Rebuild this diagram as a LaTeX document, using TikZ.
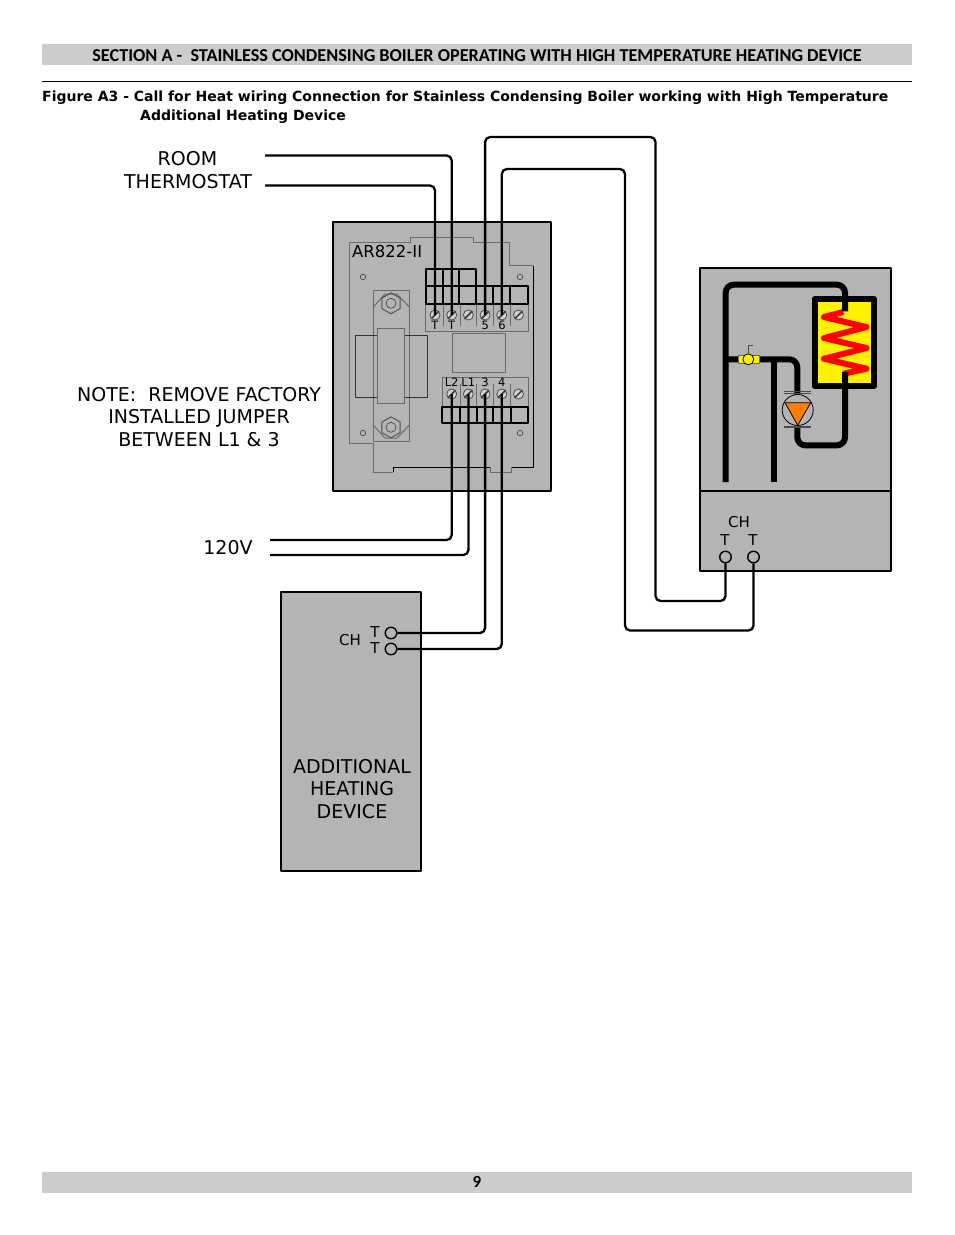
\documentclass[tikz,border=0pt]{standalone}
\usepackage{fontspec}
\setmainfont{DejaVu Sans}
\newfontfamily\headfont{Carlito}
\usetikzlibrary{shapes.geometric}
\definecolor{panelgray}{HTML}{B4B4B4}
\definecolor{bargray}{HTML}{CCCCCC}
\definecolor{trimgray}{HTML}{6A6A6A}
\definecolor{pumporange}{HTML}{FF8000}
\begin{document}
\begin{tikzpicture}[x=1pt,y=-1pt,line join=round,
      node distance=16.7pt,
      box/.style={draw=black,line width=1.4pt,fill=panelgray},
      trim/.style={draw=trimgray,line width=1pt},
      termline/.style={draw=black,line width=1.9pt},
      wire/.style={draw=black,line width=2.3pt,rounded corners=5pt},
      pipe/.style={draw=black,line width=6pt,rounded corners=8pt},
      screw/.style={circle,draw=black!70,fill=panelgray!60,line width=0.8pt,minimum size=10pt,inner sep=0pt},
      lug/.style={circle,draw=black,line width=1.4pt,fill=panelgray,minimum size=11.5pt,inner sep=0pt},
      hole/.style={circle,draw=black!70,line width=0.7pt,minimum size=5.5pt,inner sep=0pt},
      nut/.style={regular polygon,regular polygon sides=6,shape border rotate=30,draw=black!70,line width=0.9pt,minimum size=21pt,inner sep=0pt},
      lab/.style={font=\fontsize{19}{22.5}\selectfont,align=center,inner sep=0pt},
      devlab/.style={font=\fontsize{15}{18}\selectfont,inner sep=0pt},
      tiny/.style={font=\fontsize{11.5}{12}\selectfont,inner sep=0pt}]
    \useasboundingbox (0,0) rectangle (954,1235);
    \fill[bargray] (42,44) rectangle (912,65);
    \fill[bargray] (42,1172) rectangle (912,1193);
    \draw[line width=1pt] (42,81) -- (912,81);
    \node (section) at (477,56) {\headfont\bfseries\fontsize{18.2}{20}\selectfont SECTION A -\ \ STAINLESS CONDENSING BOILER OPERATING WITH HIGH TEMPERATURE HEATING DEVICE};
    \node[anchor=west,inner sep=0pt] (figA) at (42,98) {\bfseries\fontsize{14}{16}\selectfont Figure A3 - Call for Heat wiring Connection for Stainless Condensing Boiler working with High Temperature};
    \node[anchor=west,inner sep=0pt] (figB) at (140,117) {\bfseries\fontsize{14}{16}\selectfont Additional Heating Device};
    \node (pagenum) at (477,1182) {\headfont\bfseries\fontsize{17}{18}\selectfont 9};

    \node[lab] (room) at (187.5,158.5) {ROOM};
    \node[lab] (thermo) at (188,181.5) {THERMOSTAT};
    \node[lab] (note) at (199,417) {NOTE:\ \ REMOVE FACTORY\\INSTALLED JUMPER\\BETWEEN L1 \& 3};
    \node[lab] (volts) at (228,547.5) {120V};

    \draw[box] (333,222) rectangle (551,491);
    \draw[trim] (349.3,443.3) -- (349.3,242.7) -- (410,242.7) -- (410,237.3) -- (473.3,237.3) -- (473.3,242.7) -- (509.3,242.7) -- (509.3,265.7) -- (533.3,265.7);
    \draw[trim] (349.3,443.3) -- (373.3,443.3) -- (373.3,472.3) -- (393.3,472.3);
    \draw[line width=0.9pt] (533.3,265.7) -- (533.3,467.3) -- (511.7,467.3);
    \draw[line width=0.9pt] (393.3,472.3) -- (393.3,467.3) -- (490,467.3);
    \draw[trim] (490,467.3) -- (490,472.3) -- (511.7,472.3) -- (511.7,467.3);
    \node[devlab,anchor=west,font=\fontsize{16.5}{18}\selectfont] (model) at (352,251.5) {AR822-II};
    \node[hole] (h1) at (363,277) {};
    \node[hole] (h2) at (520,277) {};
    \node[hole] (h3) at (363,433) {};
    \node[hole] (h4) at (520,433) {};

    \draw[trim] (373.3,290.7) rectangle (409.3,441.7);
    \draw[line width=1.2pt,draw=black!80] (355.7,335.7) rectangle (427.3,397.3);
    \draw[trim,fill=panelgray] (377.3,328.3) rectangle (404.7,403.3);
    \draw[trim] (373.3,307) -- (385,294) -- (397,294) -- (409.3,307);
    \draw[trim] (373.3,425) -- (385,438) -- (397,438) -- (409.3,425);
    \node[nut] (n1) at (391,303.3) {};
    \node[nut] (n2) at (391,427.3) {};
    \node[hole,minimum size=10pt] (n1c) at (391,303.3) {};
    \node[hole,minimum size=10pt] (n2c) at (391,427.3) {};

    \draw[trim] (452.7,333.3) rectangle (505,372.3);
    \draw[trim] (425.7,303.3) rectangle (528.3,331);
    \draw[trim] (442.3,406.7) -- (442.3,377.3) -- (528,377.3) -- (528,406.7);
    \foreach \x in {443.3,460,476.7,493.3,510.3} \draw[trim] (\x,303.7) -- (\x,326);
    \foreach \x in {460,476.7,493.3,510.3} \draw[trim] (\x,384) -- (\x,406.7);
    \draw[termline] (425.7,269.3) rectangle (476,303.7);
    \draw[termline] (425.7,285.7) -- (528.3,285.7) -- (528.3,303.7) -- (476,303.7);
    \foreach \x in {442.7,459.3} \draw[termline] (\x,269.3) -- (\x,303.7);
    \foreach \x in {492.7,510} \draw[termline] (\x,285.7) -- (\x,303.7);
    \draw[termline] (442.3,406.7) rectangle (527.7,423.3);
    \foreach \x in {460,476.7,493.3,511} \draw[termline] (\x,406.7) -- (\x,423.3);

    \node[screw] (s1) at (435,315) {};
    \node[screw] (s2) [right of=s1] {};
    \node[screw] (s3) [right of=s2] {};
    \node[screw] (s4) [right of=s3] {};
    \node[screw] (s5) [right of=s4] {};
    \node[screw] (s6) [right of=s5] {};
    \node[screw] (b1) at (451.7,394) {};
    \node[screw] (b2) [right of=b1] {};
    \node[screw] (b3) [right of=b2] {};
    \node[screw] (b4) [right of=b3] {};
    \node[screw] (b5) [right of=b4] {};
    \foreach \s in {s1,s2,s3,s4,s5,s6,b1,b2,b3,b4,b5}
      \draw[black!75,line width=1.7pt] (\s.south west) -- (\s.north east);
    \node[tiny] (tt1) at (435,325.5) {T};
    \node[tiny] (tt2) at (451.7,325.5) {T};
    \node[tiny] (tt5) at (485.3,325.5) {5};
    \node[tiny] (tt6) at (502,325.5) {6};
    \node[tiny] (tl2) at (451.7,382.5) {L2};
    \node[tiny] (tl1) at (468.3,382.5) {L1};
    \node[tiny] (tl3) at (485,382.5) {3};
    \node[tiny] (tl4) at (501.7,382.5) {4};

    \draw[box] (700,268) rectangle (891,571);
    \draw[line width=1.4pt] (700,491) -- (891,491);
    \draw[draw=black,fill=yellow,line width=6pt,miter limit=2] (814.5,299) rectangle (874,386);
    \draw[red,line width=6pt] (843.3,312) -- (824,317) -- (866.5,327) -- (824,338) -- (866.5,348) -- (824,358.7) -- (866.5,368.7) -- (843.3,373.7);
    \draw[pipe] (725.7,482) -- (725.7,284.7) -- (845,284.7) -- (845,311.3);
    \draw[pipe] (725.7,359.3) -- (797.3,359.3) -- (797.3,395);
    \draw[pipe,rounded corners=0pt] (773.7,359.3) -- (773.7,482);
    \draw[pipe] (797.3,427) -- (797.3,445.3) -- (845,445.3) -- (845,372);
    \node[circle,draw=black,line width=0.8pt,fill=panelgray,minimum size=31pt,inner sep=0pt] (pump) at (797.7,410) {};
    \draw[draw=black,fill=pumporange,line width=0.8pt] (785,402.7) -- (810.7,402.7) -- (797.7,425.3) -- cycle;
    \draw[black!70,line width=1pt] (784.3,391.5) -- (810.7,391.5);
    \draw[black!70,line width=1pt] (784.3,393.5) -- (810.7,393.5);
    \draw[black!70,line width=1.5pt] (784.3,427) -- (810.7,427);
    \draw[black!60,line width=0.7pt,fill=yellow] (738.3,355.3) rectangle (759.3,363.7);
    \node[circle,draw=black,line width=0.8pt,fill=yellow,minimum size=11pt,inner sep=0pt] (valve) at (748.3,359.3) {};
    \draw[black!70,line width=0.8pt] (valve.north) -- (748.3,345.3) -- (752.7,345.3);
    \node[devlab] (chB) at (739,522.5) {CH};
    \node[devlab] (tB1) at (725,540.5) {T};
    \node[devlab] (tB2) at (753,540.5) {T};
    \node[lug] (ctA) at (725.5,557) {};
    \node[lug] (ctB) at (753.5,557) {};

    \draw[box] (281,592) rectangle (421,871);
    \node[lab] (addhd) at (352,789) {ADDITIONAL\\HEATING\\DEVICE};
    \node[devlab] (chD) at (350,640.5) {CH};
    \node[devlab] (tD1) at (375,632.5) {T};
    \node[devlab] (tD2) at (375,648.5) {T};
    \node[lug] (adA) at (391,633) {};
    \node[lug] (adB) at (391,649) {};

    \coordinate (roomA) at (265,155.5);
    \coordinate (roomB) at (265,185.5);
    \coordinate (lineA) at (270,540);
    \coordinate (lineB) at (270,555);
    \coordinate (runA) at (655.5,137);
    \coordinate (runB) at (655.5,601);
    \coordinate (runC) at (625,169);
    \coordinate (runD) at (625,630.5);
    \path[wire] (roomA) -| (s2.center)
    (roomB) -| (s1.center)
    (s4.center) |- (runA) -- (runB) -| (ctA)
    (s5.center) |- (runC) -- (runD) -| (ctB)
    (lineA) -| (b1.center)
    (lineB) -| (b2.center)
    (b3.center) |- (adA)
    (b4.center) |- (adB);
  \end{tikzpicture}
\end{document}
